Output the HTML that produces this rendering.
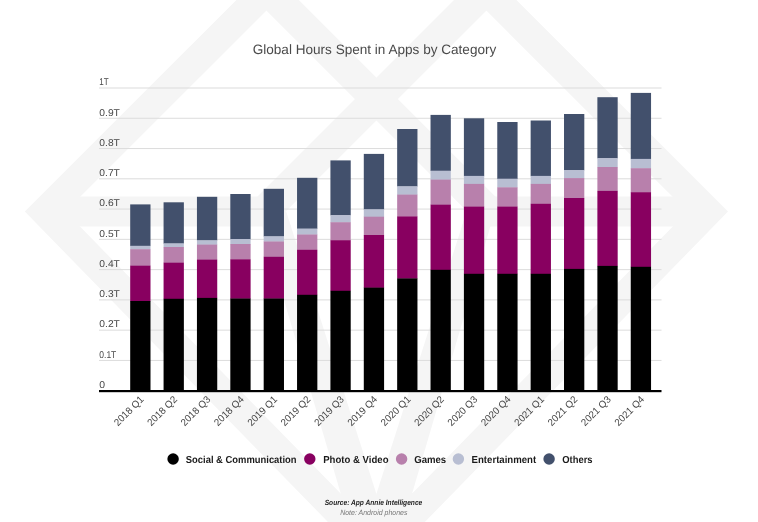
<!DOCTYPE html>
<html lang="en"><head><meta charset="utf-8"><title>Global Hours Spent in Apps by Category</title>
<style>
html,body{margin:0;padding:0;background:#fff;}
body{width:758px;height:522px;overflow:hidden;}
svg{display:block;}
text{font-family:"Liberation Sans",sans-serif;text-rendering:geometricPrecision;}
</style></head><body>
<svg width="758" height="522" viewBox="0 0 758 522">
<rect width="758" height="522" fill="#fff"/>

<g fill="#f5f5f5">
<path fill-rule="evenodd" d="M24.8,211.6 L376.4,-140.0 L728.0,211.6 L376.4,571.6 Z M65.4,211.6 L376.4,-99.4 L687.4,211.6 L376.4,530.1 Z"/>
<clipPath id="inner"><path d="M64.4,211.6 L376.4,-100.4 L688.4,211.6 L376.4,531.1 Z"/></clipPath>
<g clip-path="url(#inner)">
<polygon points="0.0,196.6 300.4,196.6 285.4,211.6 291.0,226.6 0.0,226.6"/>
<polygon points="752.8,196.6 452.4,196.6 467.4,211.6 461.8,226.6 752.8,226.6"/>
<polygon points="195.8,-60 238.8,-60 510.4,211.6 467.4,211.6"/>
<polygon points="514,-60 557,-60 285.4,211.6 242.4,211.6"/>
<polygon points="258.1,211.6 286.2,211.6 376.9,495.5 376.9,540.0 354.3,540.0"/>
<polygon points="494.7,211.6 466.6,211.6 375.9,495.5 375.9,540.0 398.5,540.0"/>
</g></g>
<rect x="99" y="87.50" width="562.5" height="1" fill="#dcdcdc"/>
<rect x="99" y="117.77" width="562.5" height="1" fill="#dcdcdc"/>
<rect x="99" y="148.04" width="562.5" height="1" fill="#dcdcdc"/>
<rect x="99" y="178.31" width="562.5" height="1" fill="#dcdcdc"/>
<rect x="99" y="208.58" width="562.5" height="1" fill="#dcdcdc"/>
<rect x="99" y="238.85" width="562.5" height="1" fill="#dcdcdc"/>
<rect x="99" y="269.12" width="562.5" height="1" fill="#dcdcdc"/>
<rect x="99" y="299.39" width="562.5" height="1" fill="#dcdcdc"/>
<rect x="99" y="329.66" width="562.5" height="1" fill="#dcdcdc"/>
<rect x="99" y="359.93" width="562.5" height="1" fill="#dcdcdc"/>
<rect x="130.20" y="204.40" width="20.3" height="41.70" fill="#42506c"/>
<rect x="130.20" y="245.80" width="20.3" height="3.70" fill="#b8bed2"/>
<rect x="130.20" y="249.20" width="20.3" height="16.80" fill="#b880ac"/>
<rect x="130.20" y="265.70" width="20.3" height="35.60" fill="#880060"/>
<rect x="130.20" y="301.00" width="20.3" height="89.50" fill="#000000"/>
<rect x="163.57" y="202.30" width="20.3" height="41.40" fill="#42506c"/>
<rect x="163.57" y="243.40" width="20.3" height="3.90" fill="#b8bed2"/>
<rect x="163.57" y="247.00" width="20.3" height="16.00" fill="#b880ac"/>
<rect x="163.57" y="262.70" width="20.3" height="36.40" fill="#880060"/>
<rect x="163.57" y="298.80" width="20.3" height="91.70" fill="#000000"/>
<rect x="196.94" y="196.80" width="20.3" height="43.80" fill="#42506c"/>
<rect x="196.94" y="240.30" width="20.3" height="4.60" fill="#b8bed2"/>
<rect x="196.94" y="244.60" width="20.3" height="15.30" fill="#b880ac"/>
<rect x="196.94" y="259.60" width="20.3" height="38.60" fill="#880060"/>
<rect x="196.94" y="297.90" width="20.3" height="92.60" fill="#000000"/>
<rect x="230.31" y="194.00" width="20.3" height="45.30" fill="#42506c"/>
<rect x="230.31" y="239.00" width="20.3" height="5.30" fill="#b8bed2"/>
<rect x="230.31" y="244.00" width="20.3" height="15.60" fill="#b880ac"/>
<rect x="230.31" y="259.30" width="20.3" height="39.50" fill="#880060"/>
<rect x="230.31" y="298.50" width="20.3" height="92.00" fill="#000000"/>
<rect x="263.68" y="188.80" width="20.3" height="47.80" fill="#42506c"/>
<rect x="263.68" y="236.30" width="20.3" height="5.50" fill="#b8bed2"/>
<rect x="263.68" y="241.50" width="20.3" height="15.60" fill="#b880ac"/>
<rect x="263.68" y="256.80" width="20.3" height="42.00" fill="#880060"/>
<rect x="263.68" y="298.50" width="20.3" height="92.00" fill="#000000"/>
<rect x="297.05" y="177.80" width="20.3" height="51.10" fill="#42506c"/>
<rect x="297.05" y="228.60" width="20.3" height="6.20" fill="#b8bed2"/>
<rect x="297.05" y="234.50" width="20.3" height="15.60" fill="#b880ac"/>
<rect x="297.05" y="249.80" width="20.3" height="45.30" fill="#880060"/>
<rect x="297.05" y="294.80" width="20.3" height="95.70" fill="#000000"/>
<rect x="330.42" y="160.40" width="20.3" height="55.00" fill="#42506c"/>
<rect x="330.42" y="215.10" width="20.3" height="7.40" fill="#b8bed2"/>
<rect x="330.42" y="222.20" width="20.3" height="18.30" fill="#b880ac"/>
<rect x="330.42" y="240.20" width="20.3" height="50.90" fill="#880060"/>
<rect x="330.42" y="290.80" width="20.3" height="99.70" fill="#000000"/>
<rect x="363.79" y="153.90" width="20.3" height="55.70" fill="#42506c"/>
<rect x="363.79" y="209.30" width="20.3" height="7.70" fill="#b8bed2"/>
<rect x="363.79" y="216.70" width="20.3" height="18.60" fill="#b880ac"/>
<rect x="363.79" y="235.00" width="20.3" height="52.90" fill="#880060"/>
<rect x="363.79" y="287.60" width="20.3" height="102.90" fill="#000000"/>
<rect x="397.16" y="129.00" width="20.3" height="57.60" fill="#42506c"/>
<rect x="397.16" y="186.30" width="20.3" height="8.60" fill="#b8bed2"/>
<rect x="397.16" y="194.60" width="20.3" height="22.10" fill="#b880ac"/>
<rect x="397.16" y="216.40" width="20.3" height="62.30" fill="#880060"/>
<rect x="397.16" y="278.40" width="20.3" height="112.10" fill="#000000"/>
<rect x="430.53" y="114.90" width="20.3" height="56.10" fill="#42506c"/>
<rect x="430.53" y="170.70" width="20.3" height="9.20" fill="#b8bed2"/>
<rect x="430.53" y="179.60" width="20.3" height="25.40" fill="#b880ac"/>
<rect x="430.53" y="204.70" width="20.3" height="65.40" fill="#880060"/>
<rect x="430.53" y="269.80" width="20.3" height="120.70" fill="#000000"/>
<rect x="463.90" y="118.30" width="20.3" height="57.90" fill="#42506c"/>
<rect x="463.90" y="175.90" width="20.3" height="8.30" fill="#b8bed2"/>
<rect x="463.90" y="183.90" width="20.3" height="23.00" fill="#b880ac"/>
<rect x="463.90" y="206.60" width="20.3" height="67.50" fill="#880060"/>
<rect x="463.90" y="273.80" width="20.3" height="116.70" fill="#000000"/>
<rect x="497.27" y="122.00" width="20.3" height="57.00" fill="#42506c"/>
<rect x="497.27" y="178.70" width="20.3" height="8.90" fill="#b8bed2"/>
<rect x="497.27" y="187.30" width="20.3" height="19.60" fill="#b880ac"/>
<rect x="497.27" y="206.60" width="20.3" height="67.50" fill="#880060"/>
<rect x="497.27" y="273.80" width="20.3" height="116.70" fill="#000000"/>
<rect x="530.64" y="120.50" width="20.3" height="55.70" fill="#42506c"/>
<rect x="530.64" y="175.90" width="20.3" height="8.30" fill="#b8bed2"/>
<rect x="530.64" y="183.90" width="20.3" height="20.20" fill="#b880ac"/>
<rect x="530.64" y="203.80" width="20.3" height="70.30" fill="#880060"/>
<rect x="530.64" y="273.80" width="20.3" height="116.70" fill="#000000"/>
<rect x="564.01" y="114.00" width="20.3" height="56.40" fill="#42506c"/>
<rect x="564.01" y="170.10" width="20.3" height="8.30" fill="#b8bed2"/>
<rect x="564.01" y="178.10" width="20.3" height="20.20" fill="#b880ac"/>
<rect x="564.01" y="198.00" width="20.3" height="71.20" fill="#880060"/>
<rect x="564.01" y="268.90" width="20.3" height="121.60" fill="#000000"/>
<rect x="597.38" y="97.20" width="20.3" height="61.20" fill="#42506c"/>
<rect x="597.38" y="158.10" width="20.3" height="9.20" fill="#b8bed2"/>
<rect x="597.38" y="167.00" width="20.3" height="24.20" fill="#b880ac"/>
<rect x="597.38" y="190.90" width="20.3" height="75.30" fill="#880060"/>
<rect x="597.38" y="265.90" width="20.3" height="124.60" fill="#000000"/>
<rect x="630.75" y="92.90" width="20.3" height="66.30" fill="#42506c"/>
<rect x="630.75" y="158.90" width="20.3" height="9.60" fill="#b8bed2"/>
<rect x="630.75" y="168.20" width="20.3" height="24.30" fill="#b880ac"/>
<rect x="630.75" y="192.20" width="20.3" height="74.90" fill="#880060"/>
<rect x="630.75" y="266.80" width="20.3" height="123.70" fill="#000000"/>
<rect x="99" y="390" width="562.5" height="2.2" fill="#000"/>
<text x="99.3" y="85.30" font-size="9.9" fill="#484848" textLength="9.4" lengthAdjust="spacingAndGlyphs">1T</text>
<text x="99.3" y="115.57" font-size="9.9" fill="#484848" textLength="20.6" lengthAdjust="spacingAndGlyphs">0.9T</text>
<text x="99.3" y="145.84" font-size="9.9" fill="#484848" textLength="20.6" lengthAdjust="spacingAndGlyphs">0.8T</text>
<text x="99.3" y="176.11" font-size="9.9" fill="#484848" textLength="20.6" lengthAdjust="spacingAndGlyphs">0.7T</text>
<text x="99.3" y="206.38" font-size="9.9" fill="#484848" textLength="20.6" lengthAdjust="spacingAndGlyphs">0.6T</text>
<text x="99.3" y="236.65" font-size="9.9" fill="#484848" textLength="20.6" lengthAdjust="spacingAndGlyphs">0.5T</text>
<text x="99.3" y="266.92" font-size="9.9" fill="#484848" textLength="20.6" lengthAdjust="spacingAndGlyphs">0.4T</text>
<text x="99.3" y="297.19" font-size="9.9" fill="#484848" textLength="20.6" lengthAdjust="spacingAndGlyphs">0.3T</text>
<text x="99.3" y="327.46" font-size="9.9" fill="#484848" textLength="20.6" lengthAdjust="spacingAndGlyphs">0.2T</text>
<text x="99.3" y="357.73" font-size="9.9" fill="#484848" textLength="17.0" lengthAdjust="spacingAndGlyphs">0.1T</text>
<text x="99.3" y="388.00" font-size="9.9" fill="#484848" textLength="5.8" lengthAdjust="spacingAndGlyphs">0</text>
<text transform="translate(144.35,400) rotate(-45)" text-anchor="end" font-size="10" fill="#444" textLength="37.4" lengthAdjust="spacingAndGlyphs">2018 Q1</text>
<text transform="translate(177.72,400) rotate(-45)" text-anchor="end" font-size="10" fill="#444" textLength="37.4" lengthAdjust="spacingAndGlyphs">2018 Q2</text>
<text transform="translate(211.09,400) rotate(-45)" text-anchor="end" font-size="10" fill="#444" textLength="37.4" lengthAdjust="spacingAndGlyphs">2018 Q3</text>
<text transform="translate(244.46,400) rotate(-45)" text-anchor="end" font-size="10" fill="#444" textLength="37.4" lengthAdjust="spacingAndGlyphs">2018 Q4</text>
<text transform="translate(277.83,400) rotate(-45)" text-anchor="end" font-size="10" fill="#444" textLength="37.4" lengthAdjust="spacingAndGlyphs">2019 Q1</text>
<text transform="translate(311.20,400) rotate(-45)" text-anchor="end" font-size="10" fill="#444" textLength="37.4" lengthAdjust="spacingAndGlyphs">2019 Q2</text>
<text transform="translate(344.57,400) rotate(-45)" text-anchor="end" font-size="10" fill="#444" textLength="37.4" lengthAdjust="spacingAndGlyphs">2019 Q3</text>
<text transform="translate(377.94,400) rotate(-45)" text-anchor="end" font-size="10" fill="#444" textLength="37.4" lengthAdjust="spacingAndGlyphs">2019 Q4</text>
<text transform="translate(411.31,400) rotate(-45)" text-anchor="end" font-size="10" fill="#444" textLength="37.4" lengthAdjust="spacingAndGlyphs">2020 Q1</text>
<text transform="translate(444.68,400) rotate(-45)" text-anchor="end" font-size="10" fill="#444" textLength="37.4" lengthAdjust="spacingAndGlyphs">2020 Q2</text>
<text transform="translate(478.05,400) rotate(-45)" text-anchor="end" font-size="10" fill="#444" textLength="37.4" lengthAdjust="spacingAndGlyphs">2020 Q3</text>
<text transform="translate(511.42,400) rotate(-45)" text-anchor="end" font-size="10" fill="#444" textLength="37.4" lengthAdjust="spacingAndGlyphs">2020 Q4</text>
<text transform="translate(544.79,400) rotate(-45)" text-anchor="end" font-size="10" fill="#444" textLength="37.4" lengthAdjust="spacingAndGlyphs">2021 Q1</text>
<text transform="translate(578.16,400) rotate(-45)" text-anchor="end" font-size="10" fill="#444" textLength="37.4" lengthAdjust="spacingAndGlyphs">2021 Q2</text>
<text transform="translate(611.53,400) rotate(-45)" text-anchor="end" font-size="10" fill="#444" textLength="37.4" lengthAdjust="spacingAndGlyphs">2021 Q3</text>
<text transform="translate(644.90,400) rotate(-45)" text-anchor="end" font-size="10" fill="#444" textLength="37.4" lengthAdjust="spacingAndGlyphs">2021 Q4</text>
<text x="374.5" y="54" text-anchor="middle" font-size="13.6" fill="#4a4a4a" textLength="243.6" lengthAdjust="spacingAndGlyphs">Global Hours Spent in Apps by Category</text>
<circle cx="173.1" cy="459" r="5.7" fill="#000"/>
<text x="185.8" y="462.6" font-size="10.2" font-weight="bold" fill="#1a1a1a" textLength="110.8" lengthAdjust="spacingAndGlyphs">Social &amp; Communication</text>
<circle cx="309.8" cy="459" r="5.7" fill="#880060"/>
<text x="323.2" y="462.6" font-size="10.2" font-weight="bold" fill="#1a1a1a" textLength="65.3" lengthAdjust="spacingAndGlyphs">Photo &amp; Video</text>
<circle cx="401.6" cy="459" r="5.7" fill="#b880ac"/>
<text x="414.2" y="462.6" font-size="10.2" font-weight="bold" fill="#1a1a1a" textLength="32" lengthAdjust="spacingAndGlyphs">Games</text>
<circle cx="458.4" cy="459" r="5.7" fill="#b8bed2"/>
<text x="471.6" y="462.6" font-size="10.2" font-weight="bold" fill="#1a1a1a" textLength="64.6" lengthAdjust="spacingAndGlyphs">Entertainment</text>
<circle cx="549.1" cy="459" r="5.7" fill="#42506c"/>
<text x="562.3" y="462.6" font-size="10.2" font-weight="bold" fill="#1a1a1a" textLength="30.3" lengthAdjust="spacingAndGlyphs">Others</text>
<text x="373.5" y="504.5" text-anchor="middle" font-size="7.5" font-weight="bold" font-style="italic" fill="#222" textLength="97.6" lengthAdjust="spacingAndGlyphs">Source: App Annie Intelligence</text>
<text x="373.8" y="514.5" text-anchor="middle" font-size="7.5" font-style="italic" fill="#777" textLength="67.2" lengthAdjust="spacingAndGlyphs">Note: Android phones</text>
</svg></body></html>
